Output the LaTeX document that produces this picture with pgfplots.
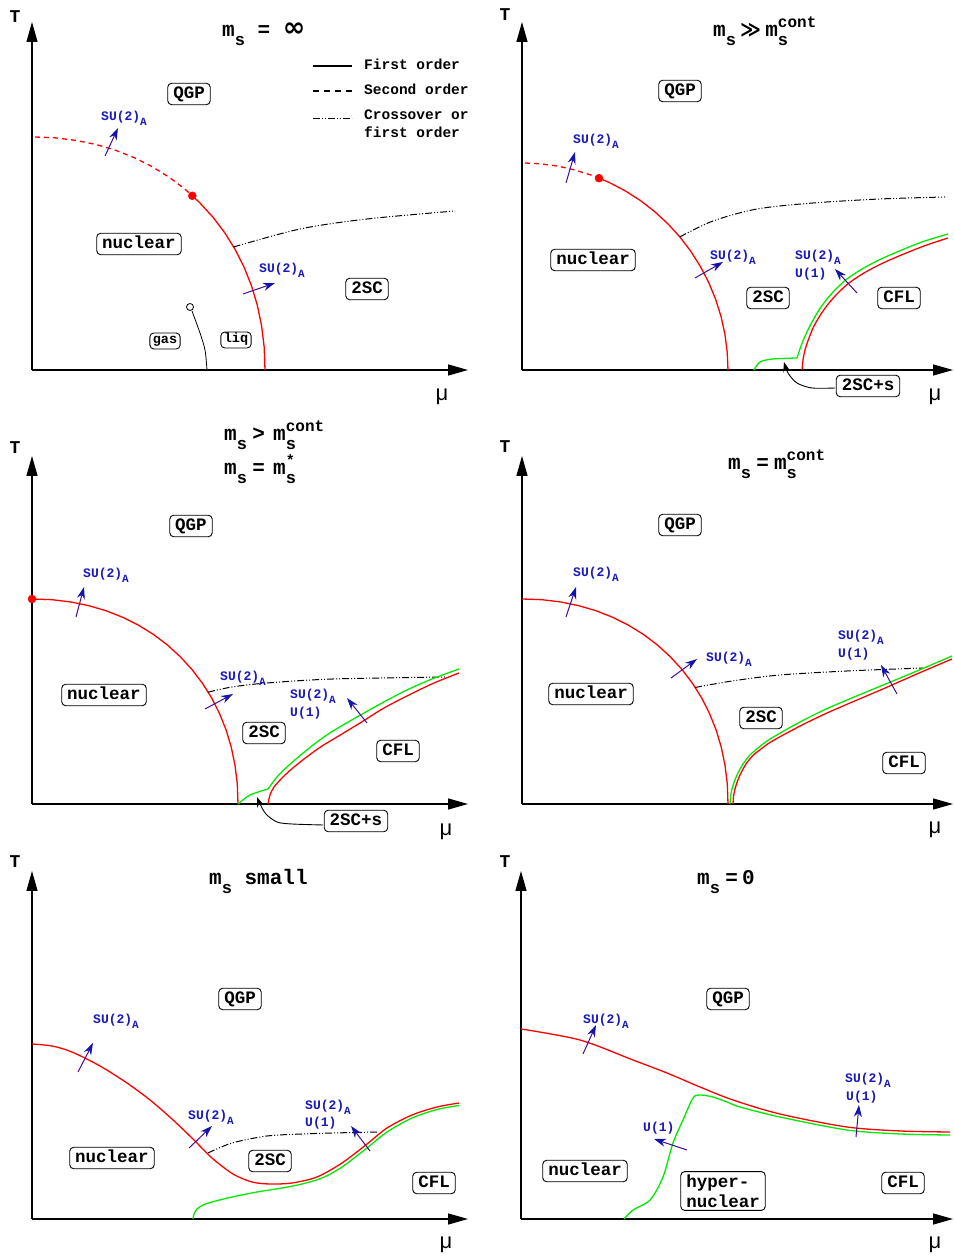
\documentclass[border=0pt]{standalone}
\usepackage{pgfplots}
\pgfplotsset{compat=1.18}
\usepackage{fontspec}
\setmonofont{Liberation Mono}
\newfontfamily\dejavu{DejaVu Sans}
\newfontfamily\libsans{Liberation Sans}
\usetikzlibrary{arrows.meta}
\definecolor{myred}{RGB}{255,0,0}
\definecolor{mygreen}{RGB}{0,235,0}
\definecolor{lblue}{RGB}{25,25,185}
\definecolor{astem}{RGB}{70,10,150}
\definecolor{ahead}{RGB}{20,20,170}
\newcommand\subs{\raisebox{-0.42em}{\fontsize{17}{17}\selectfont s}}
\newcommand\ms{m\subs}
\newcommand\msup[1]{m\rlap{\subs}\raisebox{0.45em}{\fontsize{16}{16}\selectfont #1}}
\newcommand\mstar{m\rlap{\subs}\raisebox{0.47em}{\fontsize{15}{15}\selectfont *}}
\newcommand\SUA{SU(2)\raisebox{-0.38em}{\fontsize{11}{11}\selectfont A}}
\newcommand\titlefont{\ttfamily\bfseries\fontsize{21}{24}\selectfont}
\pgfplotsset{
  panel/.style={axis lines=left, x=1pt, y=1pt, xmin=0, ymin=0, ymax=348,
    xtick=\empty, ytick=\empty, clip=false, anchor=south west,
    axis line style={line width=1.4pt, -{Triangle[length=20pt,width=11pt]}}},
  redl/.style={myred, line width=1.3pt, smooth, tension=0.5},
  redp/.style={myred, line width=1.3pt, line join=round},
  redd/.style={myred, line width=1.3pt, dash pattern=on 5pt off 4pt},
  grn/.style={mygreen, line width=1.3pt, smooth, tension=0.5},
  cross/.style={black, line width=1pt, smooth, tension=0.5, dash pattern=on 7pt off 2pt on 1pt off 2pt on 1pt off 2pt},
  arr/.style={astem, line width=1pt, -{Stealth[length=12pt,width=8pt,color=ahead]}},
  karr/.style={black, line width=0.9pt, smooth, tension=0.5, -{Stealth[length=10pt,width=7pt]}},
  rdot/.style={only marks, mark=*, mark size=4pt, color=myred},
}
\tikzset{
  box/.style={draw, rounded corners=4pt, line width=0.9pt, font=\ttfamily\bfseries\fontsize{17.5}{20}\selectfont, text height=11pt, text depth=2.5pt, inner xsep=5.5pt, inner ysep=4pt},
  lbl/.style={text=lblue, font=\ttfamily\bfseries\fontsize{13}{15}\selectfont, anchor=base west, inner sep=0pt},
  ttl/.style={font=\titlefont, anchor=base west, inner sep=0pt},
  Tl/.style={font=\ttfamily\bfseries\fontsize{18}{18}\selectfont},
  mul/.style={font=\libsans\fontsize{22}{22}\selectfont},
  leg/.style={font=\ttfamily\bfseries\fontsize{14.5}{16}\selectfont, anchor=base west, inner sep=0pt},
}
\begin{document}
\begin{tikzpicture}
\useasboundingbox (0,0) rectangle (953pt,1258pt);
% ---------------- Panel 1 ----------------
\begin{axis}[panel, at={(32pt,888pt)}, xmax=436]
\addplot[redd] coordinates {(3,233)(22.8,232.2)(44.0,229.6)(64.4,225.4)(83.9,219.6)(102.6,212.2)(120.4,203.2)(137.3,192.7)(153.0,180.8)(160.3,174.2)};
\addplot[redp] coordinates {(160.3,174.2)(167.5,167.5)(180.8,153.0)(192.7,137.3)(203.2,120.4)(212.2,102.6)(219.6,83.9)(225.4,64.4)(229.6,44.0)(232.2,22.8)(233,0)};
\addplot[rdot] coordinates {(160.3,174.2)};
\addplot[cross] coordinates {(201.5,123)(268,141)(335,151)(423,159)};
\addplot[black, line width=0.8pt, smooth] coordinates {(160,59)(168,37)(173,20)(175,0)};
\addplot[only marks, mark=o, mark size=3.5pt, black, mark options={line width=0.8pt, fill=white}] coordinates {(158,63)};
\addplot[black, line width=1.2pt] coordinates {(281,304)(320,304)};
\addplot[black, line width=1.2pt, dash pattern=on 6pt off 5pt] coordinates {(281,279)(320,279)};
\addplot[black, line width=1pt, dash pattern=on 7pt off 2pt on 1pt off 2pt on 1pt off 2pt] coordinates {(281,251)(320,251)};
\addplot[arr] coordinates {(73,214)(86,242)};
\addplot[arr] coordinates {(211,76)(243,87)};
\node[leg] at (axis cs:332,300) {First order};
\node[leg] at (axis cs:332,275) {Second order};
\node[leg] at (axis cs:332,250) {Crossover or};
\node[leg] at (axis cs:332,232) {first order};
\node[lbl] at (axis cs:69,249) {\SUA};
\node[lbl] at (axis cs:227,97) {\SUA};
\node[box] at (axis cs:157,276) {QGP};
\node[box] at (axis cs:107,126) {nuclear};
\node[box] at (axis cs:335,81) {2SC};
\node[box, font=\ttfamily\bfseries\fontsize{13.5}{15}\selectfont, text height=8.5pt, text depth=2.5pt, inner xsep=3pt, inner ysep=2.5pt] at (axis cs:133,29) {gas};
\node[box, font=\ttfamily\bfseries\fontsize{13.5}{15}\selectfont, text height=8.5pt, text depth=2.5pt, inner xsep=3pt, inner ysep=2.5pt] at (axis cs:204,30) {liq};
\node[ttl] at (axis cs:190,333) {\ms\ = {\dejavu\fontsize{27}{27}\selectfont ∞}};
\node[Tl] at (axis cs:-17,353) {T};
\node[mul] at (axis cs:410,-27) {μ};
\end{axis}
% ---------------- Panel 2 ----------------
\begin{axis}[panel, at={(522pt,888pt)}, xmax=431]
\addplot[redd] coordinates {(3,207)(18,206.2)(35.8,203.9)(53.3,199.9)(70.5,194.5)(77,191.8)};
\addplot[redp] coordinates {(77,191.8)(87.1,187.6)(103,179.3)(118.2,169.6)(132.4,158.6)(145.7,146.4)(157.8,133.1)(168.8,118.7)(178.4,103.5)(186.7,87.5)(193.6,70.8)(199,53.6)(202.9,35.9)(205.2,18.1)(206,0)};
\addplot[rdot] coordinates {(77,191.8)};
\addplot[cross] coordinates {(157.8,133.1)(191,149)(235,161)(291,167)(358,171)(423,173)};
\addplot[grn] coordinates {(232,0)(238,8)(251,11)(275,12)};
\addplot[grn] coordinates {(275,12)(279,24)(284,36)(290,48)(297,60)(305,71)(314,81)(325,91)(340,101)(357,110)(375,118)(400,128)(426,136)};
\addplot[redl] coordinates {(280,0)(281,10)(283,20)(287,32)(292,44)(299,56)(307,67)(316,77)(327,87)(342,97)(359,106)(377,114)(402,124)(426,132)};
\addplot[karr] coordinates {(313,-18)(290,-18)(275,-13)(266,-3)(262,8)};
\addplot[arr] coordinates {(44,187)(53,218)};
\addplot[arr] coordinates {(173,92)(201,108)};
\addplot[arr] coordinates {(335,77)(313,101)};
\node[lbl] at (axis cs:51,226) {\SUA};
\node[lbl] at (axis cs:188,110) {\SUA};
\node[lbl] at (axis cs:273,110) {\SUA};
\node[lbl] at (axis cs:273,92) {U(1)};
\node[box] at (axis cs:158,279) {QGP};
\node[box] at (axis cs:71,110) {nuclear};
\node[box] at (axis cs:246,72) {2SC};
\node[box] at (axis cs:377,72) {CFL};
\node[box] at (axis cs:346,-16) {2SC+s};
\node[ttl] at (axis cs:191,333) {\ms\hspace{0.2em}{\dejavu\bfseries\fontsize{20}{20}\selectfont ≫}\hspace{0.2em}\msup{cont}};
\node[Tl] at (axis cs:-17,355) {T};
\node[mul] at (axis cs:413,-27) {μ};
\end{axis}
% ---------------- Panel 3 ----------------
\begin{axis}[panel, at={(32pt,454pt)}, xmax=436]
\addplot[redp] coordinates {(0,205)(20.2,204.3)(38.9,202.0)(56.9,198.3)(74.2,193.2)(90.7,186.7)(106.5,178.8)(121.4,169.6)(135.3,159.1)(148.1,147.4)(159.9,134.6)(170.4,120.8)(179.7,106.0)(187.6,90.3)(194.2,73.8)(199.3,56.6)(203.0,38.7)(205.3,20.1)(206,0)};
\addplot[rdot] coordinates {(0,205)};
\addplot[cross] coordinates {(176,111.8)(200,117)(235,121)(301,125)(413,127)};
\addplot[grn] coordinates {(206,0)(218,9)(236,15)};
\addplot[grn] coordinates {(236,15)(245,27)(256,38)(270,50)(285,62)(301,73)(325,87)(350,101)(375,114)(400,125)(427,135)};
\addplot[redl] coordinates {(236,0)(238,9)(242,17)(251,27)(262,37)(276,48)(290,58)(305,67)(328,81)(352,96)(377,109)(402,121)(427,131)};
\addplot[karr] coordinates {(291,-21)(260,-20)(245,-18)(234,-10)(228,0)(225,7)};
\addplot[arr] coordinates {(44,187)(52,217)};
\addplot[arr] coordinates {(173,95)(201,110)};
\addplot[arr] coordinates {(335,81)(315,106)};
\node[lbl] at (axis cs:51,226) {\SUA};
\node[lbl] at (axis cs:188,123) {\SUA};
\node[lbl] at (axis cs:258,105) {\SUA};
\node[lbl] at (axis cs:258,87) {U(1)};
\node[box] at (axis cs:159,278) {QGP};
\node[box] at (axis cs:72,109) {nuclear};
\node[box] at (axis cs:232,71) {2SC};
\node[box] at (axis cs:366,53) {CFL};
\node[box] at (axis cs:324,-17) {2SC+s};
\node[ttl] at (axis cs:192,363) {\ms\hspace{0.25em}>\hspace{0.4em}\msup{cont}};
\node[ttl] at (axis cs:192,329) {\ms\hspace{0.25em}=\hspace{0.4em}\mstar};
\node[Tl] at (axis cs:-17,356) {T};
\node[mul] at (axis cs:414,-28) {μ};
\end{axis}
% ---------------- Panel 4 ----------------
\begin{axis}[panel, at={(522pt,454pt)}, xmax=431]
\addplot[redp] coordinates {(0,205)(20.2,204.3)(38.9,202.0)(56.9,198.3)(74.2,193.2)(90.7,186.7)(106.5,178.8)(121.4,169.6)(135.3,159.1)(148.1,147.4)(159.9,134.6)(170.4,120.8)(179.7,106.0)(187.6,90.3)(194.2,73.8)(199.3,56.6)(203.0,38.7)(205.3,20.1)(206,0)};
\addplot[cross] coordinates {(173,116.5)(210,123)(258,129)(325,133)(401,136)};
\addplot[grn] coordinates {(208,0)(208.6,8)(210,15)(212.5,23)(216,31)(221,40)(228,49)(236,56)(245,63)(260,72)(280,83)(302,94)(325,104)(360,118.5)(395,133)(430,148)};
\addplot[redl] coordinates {(211,0)(211.6,8)(213,15)(215.5,23)(219,31)(224,40)(231,48.5)(239,55)(248,61.5)(263,70)(283,80.5)(305,91)(328,101)(362,115.5)(396,130.5)(430,145)};
\addplot[arr] coordinates {(44,187)(54,217)};
\addplot[arr] coordinates {(149,126)(175,145)};
\addplot[arr] coordinates {(375,110)(359,139)};
\node[lbl] at (axis cs:51,227) {\SUA};
\node[lbl] at (axis cs:184,142) {\SUA};
\node[lbl] at (axis cs:316,164) {\SUA};
\node[lbl] at (axis cs:316,146) {U(1)};
\node[box] at (axis cs:158,279) {QGP};
\node[box] at (axis cs:69,110) {nuclear};
\node[box] at (axis cs:239,86) {2SC};
\node[box] at (axis cs:382,41) {CFL};
\node[ttl] at (axis cs:206,334) {\ms\hspace{0.25em}=\hspace{0.25em}\msup{cont}};
\node[Tl] at (axis cs:-17,357) {T};
\node[mul] at (axis cs:413,-26) {μ};
\end{axis}
% ---------------- Panel 5 ----------------
\begin{axis}[panel, at={(32pt,39pt)}, xmax=436]
\addplot[grn] coordinates {(161,0)(162,5)(165,10)(171,14)(180,17)(200,22)(225,27)(250,31)(270,35)(290,41)(310,52)(335,71)(355,87)(380,101)(405,109.5)(427,113.5)};
\addplot[redl] coordinates {(0,175)(20,173)(40,167)(68,153)(95,136)(118,119)(140,100)(161,80)(180,61)(201,45)(220,37)(238,35)(260,36)(285,42)(310,56)(335,75)(355,91)(380,104)(405,112)(427,116)};
\addplot[cross] coordinates {(176,66)(200,76)(235,83)(270,85)(301,86)(345,87)};
\addplot[arr] coordinates {(46,147)(61,176)};
\addplot[arr] coordinates {(157,71)(180,93)};
\addplot[arr] coordinates {(338,68)(319,93)};
\node[lbl] at (axis cs:61,195) {\SUA};
\node[lbl] at (axis cs:156,99) {\SUA};
\node[lbl] at (axis cs:273,109) {\SUA};
\node[lbl] at (axis cs:273,92) {U(1)};
\node[box] at (axis cs:208,220) {QGP};
\node[box] at (axis cs:80,61) {nuclear};
\node[box] at (axis cs:238,58) {2SC};
\node[box] at (axis cs:402,36) {CFL};
\node[ttl] at (axis cs:177,334) {\ms\hspace{0.6em}small};
\node[Tl] at (axis cs:-17,357) {T};
\node[mul] at (axis cs:414,-26) {μ};
\end{axis}
% ---------------- Panel 6 ----------------
\begin{axis}[panel, at={(521pt,39pt)}, xmax=432]
\addplot[grn] coordinates {(103,0)(112,9)(129,19)(142,42)(152,76)(162,99)(172,121)(179,124)(192,122)(206,117)(219,112)(259,102)(326,89)(380,85)(429,84)};
\addplot[redl] coordinates {(0,190)(59,179)(112,159)(146,146)(179,132)(212,119)(259,105)(326,92)(380,88)(429,87)};
\addplot[arr] coordinates {(62,165)(75,194)};
\addplot[arr] coordinates {(166,69)(133,80)};
\addplot[arr] coordinates {(335,82)(338,114)};
\node[lbl] at (axis cs:62,195) {\SUA};
\node[lbl] at (axis cs:122,87) {U(1)};
\node[lbl] at (axis cs:324,136) {\SUA};
\node[lbl] at (axis cs:325,118) {U(1)};
\node[box] at (axis cs:207,220) {QGP};
\node[box] at (axis cs:64,48) {nuclear};
\node[box, text height=, text depth=, align=left, inner ysep=3pt] at (axis cs:202,28) {hyper-\\nuclear};
\node[box] at (axis cs:382,36) {CFL};
\node[ttl] at (axis cs:176,334) {\ms\hspace{0.25em}=\hspace{0.2em}0};
\node[Tl] at (axis cs:-16,357) {T};
\node[mul] at (axis cs:414,-26) {μ};
\end{axis}
\end{tikzpicture}
\end{document}
